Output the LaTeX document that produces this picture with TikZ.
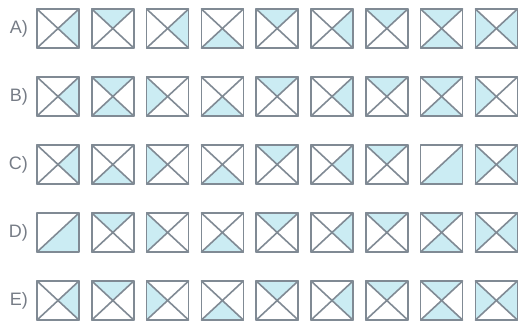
\documentclass[tikz,border=0pt]{standalone}
\usepackage{fontspec}
\setmainfont{Liberation Sans}
\definecolor{framegray}{RGB}{128,138,148}
\definecolor{lightcyan}{RGB}{203,236,243}
\definecolor{labelgray}{RGB}{118,124,134}
% shaded triangles of a 42x39 cell
\def\shr{(42,0)--(42,39)--(21,19.5)--cycle}
\def\shl{(0,0)--(0,39)--(21,19.5)--cycle}
\def\sht{(0,0)--(42,0)--(21,19.5)--cycle}
\def\shb{(0,39)--(42,39)--(21,19.5)--cycle}
\def\shd{(42,0)--(42,39)--(0,39)--cycle}
\def\diagcode{d}
\newcommand{\cell}[3]{%
  \begin{scope}[shift={(#1,#2)}]
    \foreach \s in #3 {\fill[lightcyan] \csname sh\s\endcsname;}
    \edef\tmp{#3}%
    \ifx\tmp\diagcode
      \draw[frame] (0,39) -- (42,0);
    \else
      \draw[frame] (0,0) -- (42,39) (42,0) -- (0,39);
    \fi
    \draw[frame] (0,0) rectangle (42,39);
  \end{scope}}
\begin{document}
\begin{tikzpicture}[x=1pt, y=-1pt, line join=round, line cap=round,
  frame/.style={draw=framegray, line width=1.6pt},
  rowlabel/.style={anchor=east, text=labelgray, font=\fontsize{18}{20}\selectfont, inner sep=0pt}]
\useasboundingbox (0,0) rectangle (518,323);
\node[rowlabel] (labA) at (28,28.5) {A)};
\node[rowlabel] (labB) at (28,96.5) {B)};
\node[rowlabel] (labC) at (28,164.5) {C)};
\node[rowlabel] (labD) at (28,232.5) {D)};
\node[rowlabel] (labE) at (28,300.5) {E)};
\foreach \lst [count=\i from 0] in {{r},{t},{r},{b},{t},{r},{t},{t,b},{l,r}}
  \cell{37+54.8*\i}{9}{\lst};
\foreach \lst [count=\i from 0] in {{r},{t,b},{l},{b},{t},{r},{t},{t,b},{l}}
  \cell{37+54.8*\i}{77}{\lst};
\foreach \lst [count=\i from 0] in {{r},{b},{l},{b},{t},{r},{t},{d},{l,r}}
  \cell{37+54.8*\i}{145}{\lst};
\foreach \lst [count=\i from 0] in {{d},{t},{l},{b},{t},{r},{t},{t,b},{l,r}}
  \cell{37+54.8*\i}{213}{\lst};
\foreach \lst [count=\i from 0] in {{r},{t},{l},{b},{t},{r},{t},{t,b},{l,r}}
  \cell{37+54.8*\i}{281}{\lst};
\end{tikzpicture}
\end{document}
